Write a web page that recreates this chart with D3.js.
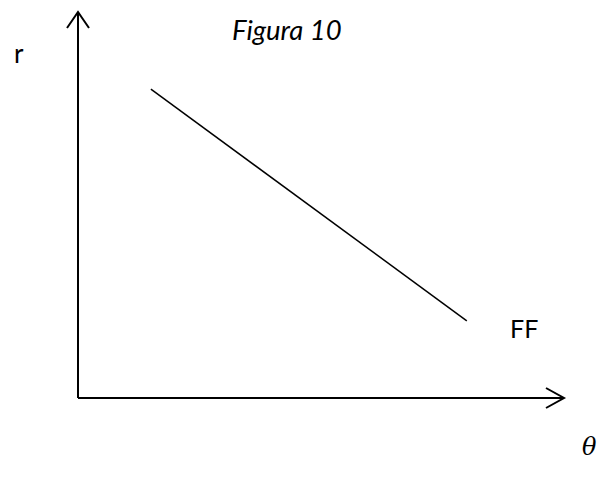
<!DOCTYPE html>
<html>
<head>
<meta charset="utf-8">
<script src="https://cdn.jsdelivr.net/npm/d3@7"></script>
<style>
  html, body { margin: 0; padding: 0; background: #fff; }
  text { font-family: Lato, "Open Sans", sans-serif; fill: #000; }
</style>
</head>
<body>
<div id="chart"></div>
<script>
// données de la figure (unités arbitraires)
const lineTheta = [15, 80];
const lineR = [80, 20];
const axisLabels = ["r", "θ"];
const title = "Figura 10";
const curveLabel = "FF";

const width = 597, height = 479;
const origin = {x: 78, y: 398};

const x = d3.scaleLinear().domain([0, 100]).range([origin.x, 564]);
const y = d3.scaleLinear().domain([0, 100]).range([origin.y, 12]);

const svg = d3.select("#chart").append("svg")
    .attr("width", width)
    .attr("height", height);

// axes
svg.append("line")
    .attr("x1", x(0)).attr("y1", y(0))
    .attr("x2", x(100)).attr("y2", y(0))
    .attr("stroke", "#000").attr("stroke-width", 2);
svg.append("line")
    .attr("x1", x(0)).attr("y1", y(0))
    .attr("x2", x(0)).attr("y2", y(100))
    .attr("stroke", "#000").attr("stroke-width", 2);

// flèches
svg.append("path")
    .attr("d", `M${x(100) - 18},${y(0) - 10} L${x(100)},${y(0)} L${x(100) - 18},${y(0) + 10}`)
    .attr("fill", "none").attr("stroke", "#000").attr("stroke-width", 2);
svg.append("path")
    .attr("d", `M${x(0) - 11},${y(100) + 16} L${x(0)},${y(100)} L${x(0) + 11},${y(100) + 16}`)
    .attr("fill", "none").attr("stroke", "#000").attr("stroke-width", 2);

// droite
const pts = lineTheta.map((t, i) => [t, lineR[i]]);
svg.append("path")
    .datum(pts)
    .attr("d", d3.line().x(d => x(d[0])).y(d => y(d[1])))
    .attr("fill", "none").attr("stroke", "#000").attr("stroke-width", 1.5);

// textes
svg.append("text").attr("x", 14).attr("y", 63)
    .style("font-size", "26px").text(axisLabels[0]);
svg.append("text").attr("x", 232).attr("y", 40)
    .style("font-size", "27.5px").style("font-style", "italic").text(title);
svg.append("text").attr("x", 510).attr("y", 338)
    .style("font-size", "25px").text(curveLabel);
svg.append("text").attr("x", 582).attr("y", 455)
    .style("font-family", "'DejaVu Serif', serif")
    .style("font-size", "24px").style("font-style", "italic").text(axisLabels[1]);
</script>
</body>
</html>
